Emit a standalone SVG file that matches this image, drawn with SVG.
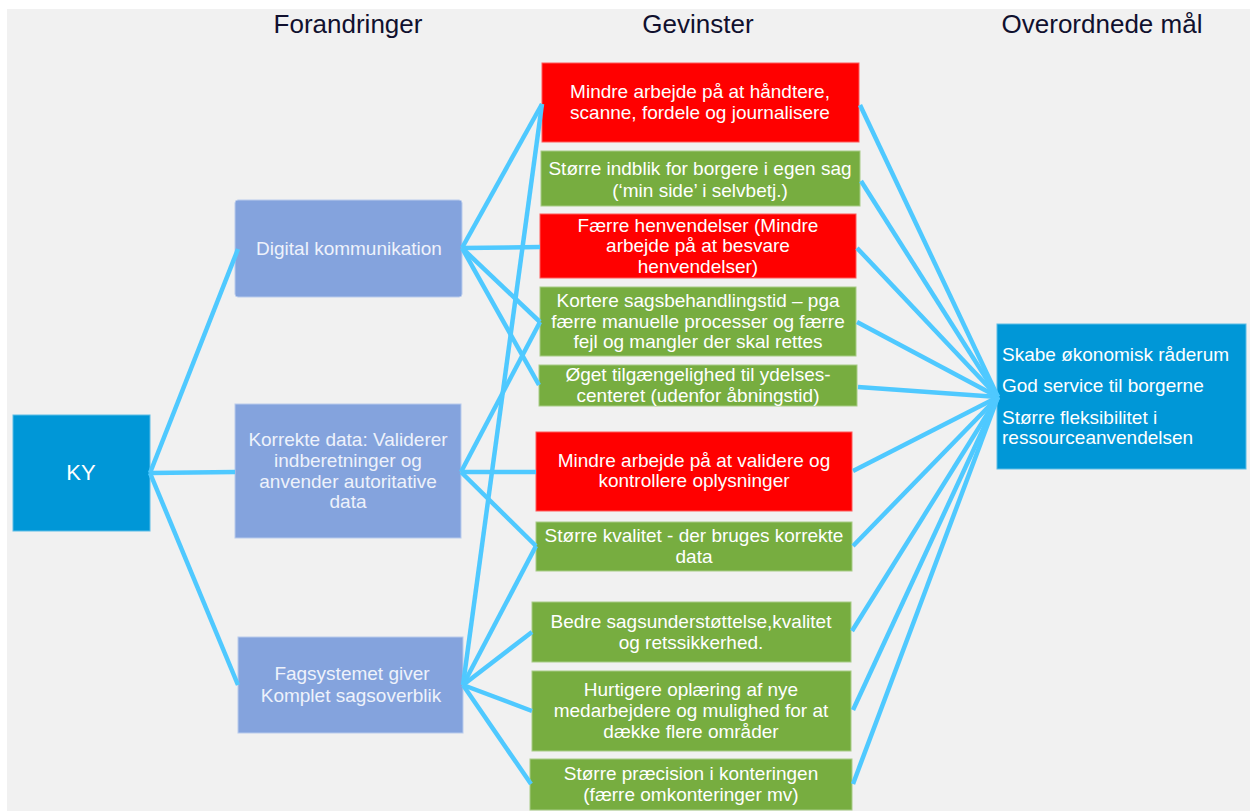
<svg xmlns="http://www.w3.org/2000/svg" width="1250" height="811" viewBox="0 0 1250 811">
<style>
.hdr{font-family:"Liberation Sans",Arial,sans-serif;font-size:26px;fill:#10102e;text-anchor:middle}
.t{font-family:"Liberation Sans",Arial,sans-serif;font-size:19px;fill:#ffffff;text-anchor:middle}
.tl{font-family:"Liberation Sans",Arial,sans-serif;font-size:19px;fill:#eef2fb;text-anchor:middle}
.tg{font-family:"Liberation Sans",Arial,sans-serif;font-size:19px;fill:#ffffff;text-anchor:start}
.red{fill:#ff0000;stroke:#ff5a5a;stroke-width:1}
.green{fill:#77ad40;stroke:#a8cc86;stroke-width:1}
.lav{fill:#84a3dd;stroke:#b9cbec;stroke-width:1}
.blue{fill:#0097d7;stroke:#5cbde6;stroke-width:1}
.conn line{stroke:#4fc9ff;stroke-width:4.5;stroke-linecap:butt}
</style>
<rect x="0" y="0" width="1250" height="811" fill="#ffffff"/>
<rect x="7" y="9" width="1243" height="802" fill="#f1f1f1"/>

<g id="headers">
<text class="hdr" x="348" y="33">Forandringer</text>
<text class="hdr" x="698" y="33">Gevinster</text>
<text class="hdr" x="1102" y="33">Overordnede mål</text>
</g>

<g id="ky">
<rect class="blue" x="13" y="415" width="137" height="116"/>
<text class="t" x="81" y="480" style="font-size:22px">KY</text>
</g>

<g id="digital">
<rect class="lav" x="235" y="200" width="227" height="97" rx="3"/>
<text class="tl" x="349" y="255">Digital kommunikation</text>
</g>

<g id="korrekte">
<rect class="lav" x="235" y="404" width="226" height="134"/>
<text class="tl" x="348" y="446">Korrekte data: Validerer</text>
<text class="tl" x="348" y="467">indberetninger og</text>
<text class="tl" x="348" y="488">anvender autoritative</text>
<text class="tl" x="348" y="508">data</text>
</g>

<g id="fagsystemet">
<rect class="lav" x="238" y="637" width="225" height="96"/>
<text class="tl" x="352" y="680">Fagsystemet giver</text>
<text class="tl" x="351" y="702">Komplet sagsoverblik</text>
</g>

<g id="g1">
<rect class="red" x="542" y="63" width="317" height="79"/>
<text class="t" x="700" y="98">Mindre arbejde på at håndtere,</text>
<text class="t" x="700" y="119">scanne, fordele og journalisere</text>
</g>

<g id="g2">
<rect class="green" x="541" y="151" width="319" height="55"/>
<text class="t" x="700" y="175">Større indblik for borgere i egen sag</text>
<text class="t" x="700" y="197">(‘min side’ i selvbetj.)</text>
</g>

<g id="g3">
<rect class="red" x="540" y="214" width="316" height="64"/>
<text class="t" x="698" y="232">Færre henvendelser  (Mindre</text>
<text class="t" x="698" y="252">arbejde på at besvare</text>
<text class="t" x="698" y="273">henvendelser)</text>
</g>

<g id="g4">
<rect class="green" x="540" y="287" width="316" height="69"/>
<text class="t" x="698" y="307">Kortere sagsbehandlingstid  – pga</text>
<text class="t" x="698" y="328">færre manuelle processer og færre</text>
<text class="t" x="698" y="348">fejl og mangler der skal rettes</text>
</g>

<g id="g5">
<rect class="green" x="539" y="365" width="318" height="41"/>
<text class="t" x="698" y="381">Øget tilgængelighed til ydelses-</text>
<text class="t" x="698" y="402">centeret (udenfor åbningstid)</text>
</g>

<g id="g6">
<rect class="red" x="536" y="432" width="316" height="79"/>
<text class="t" x="694" y="467">Mindre arbejde på at validere og</text>
<text class="t" x="694" y="487">kontrollere oplysninger</text>
</g>

<g id="g7">
<rect class="green" x="536" y="522" width="316" height="49"/>
<text class="t" x="694" y="542">Større kvalitet  - der bruges korrekte</text>
<text class="t" x="694" y="563">data</text>
</g>

<g id="g8">
<rect class="green" x="532" y="602" width="319" height="60"/>
<text class="t" x="691" y="628">Bedre sagsunderstøttelse,kvalitet</text>
<text class="t" x="691" y="649">og retssikkerhed.</text>
</g>

<g id="g9">
<rect class="green" x="532" y="671" width="319" height="80"/>
<text class="t" x="691" y="696">Hurtigere oplæring af nye</text>
<text class="t" x="691" y="717">medarbejdere og mulighed for at</text>
<text class="t" x="691" y="738">dække flere områder</text>
</g>

<g id="g10">
<rect class="green" x="530" y="759" width="322" height="51"/>
<text class="t" x="691" y="780">Større præcision i konteringen</text>
<text class="t" x="691" y="801">(færre omkonteringer mv)</text>
</g>

<g id="maal">
<rect class="blue" x="997" y="324" width="249" height="145"/>
<text class="tg" x="1002" y="361">Skabe økonomisk råderum</text>
<text class="tg" x="1002" y="392">God service til borgerne</text>
<text class="tg" x="1002" y="424">Større fleksibilitet i</text>
<text class="tg" x="1002" y="444">ressourceanvendelsen</text>
</g>

<g id="connectors" class="conn">
<line x1="150" y1="473" x2="238" y2="249"/>
<line x1="150" y1="473" x2="235" y2="472"/>
<line x1="150" y1="473" x2="238" y2="685"/>
<line x1="462" y1="248" x2="542" y2="104"/>
<line x1="462" y1="248" x2="540" y2="247"/>
<line x1="462" y1="248" x2="540" y2="322"/>
<line x1="462" y1="248" x2="539" y2="385"/>
<line x1="461" y1="472" x2="540" y2="322"/>
<line x1="461" y1="472" x2="536" y2="472"/>
<line x1="461" y1="472" x2="536" y2="546"/>
<line x1="463" y1="685" x2="542" y2="104"/>
<line x1="463" y1="685" x2="536" y2="546"/>
<line x1="463" y1="685" x2="532" y2="632"/>
<line x1="463" y1="685" x2="532" y2="711"/>
<line x1="463" y1="685" x2="531" y2="784"/>
<line x1="860" y1="105" x2="998" y2="397"/>
<line x1="861" y1="181" x2="998" y2="397"/>
<line x1="857" y1="248" x2="998" y2="397"/>
<line x1="857" y1="322" x2="998" y2="397"/>
<line x1="858" y1="387" x2="998" y2="397"/>
<line x1="853" y1="471" x2="998" y2="397"/>
<line x1="853" y1="546" x2="998" y2="397"/>
<line x1="852" y1="631" x2="998" y2="397"/>
<line x1="853" y1="710" x2="998" y2="397"/>
<line x1="853" y1="784" x2="998" y2="397"/>
</g>
</svg>
